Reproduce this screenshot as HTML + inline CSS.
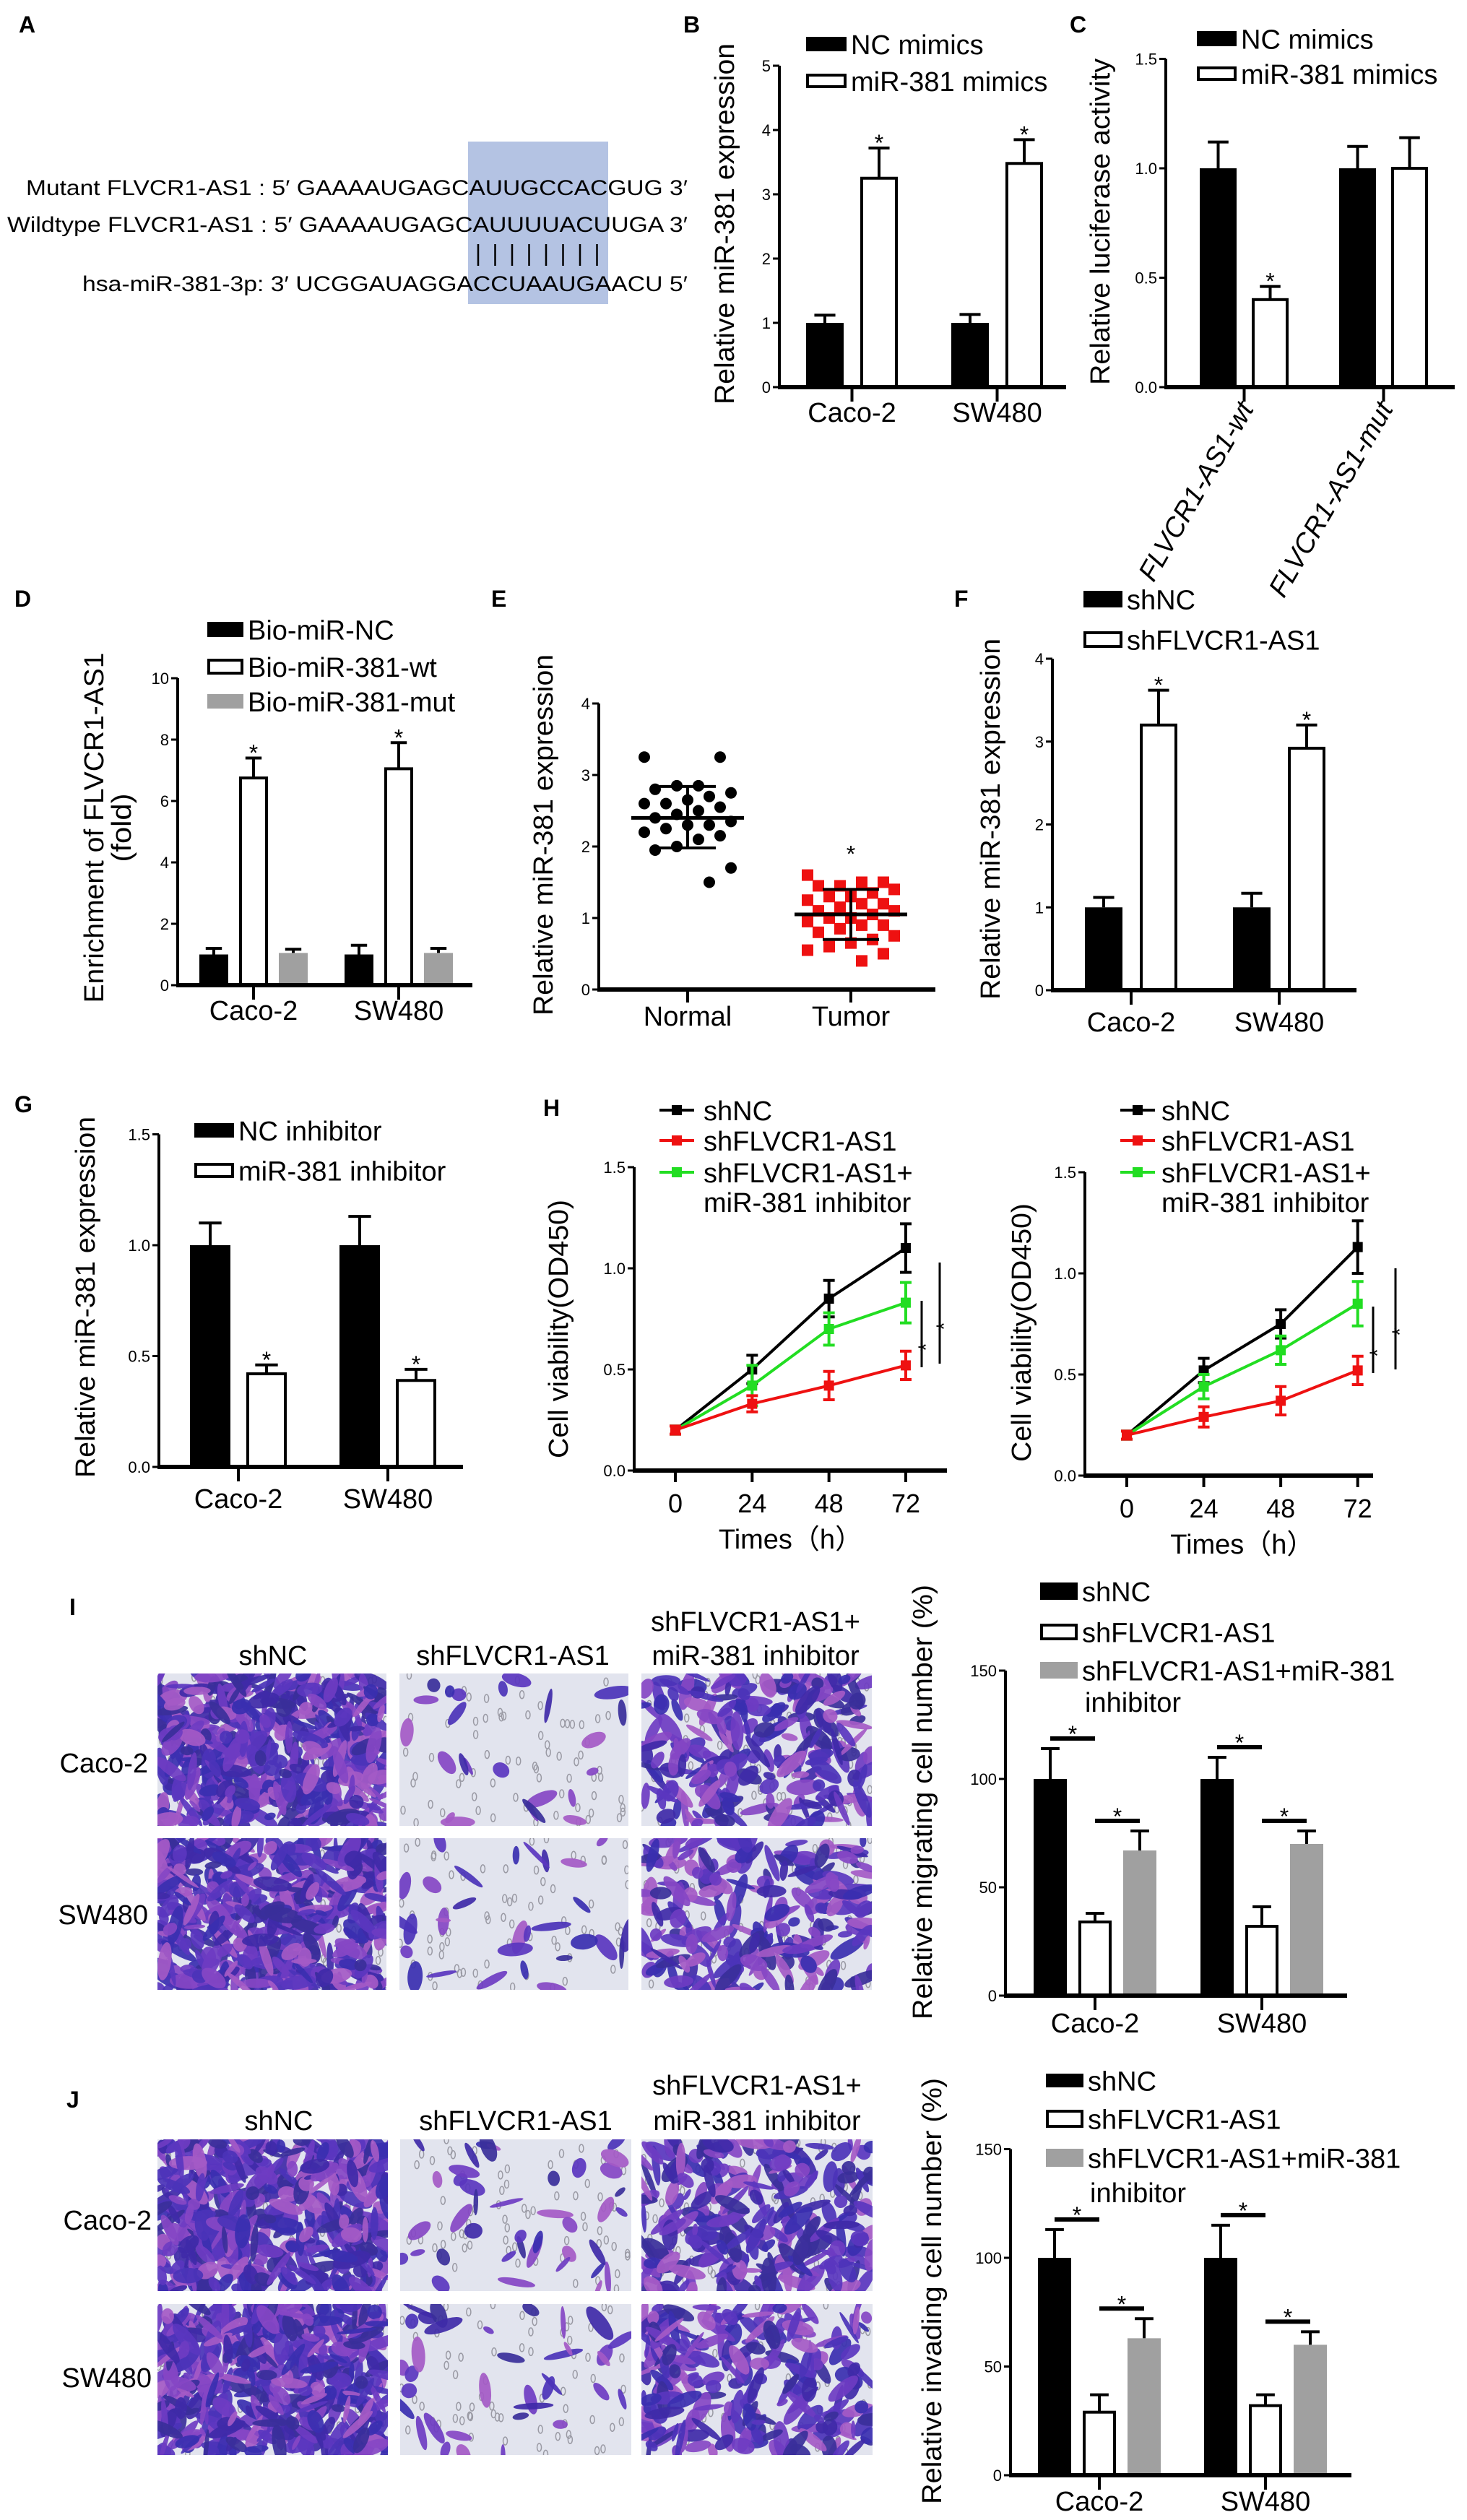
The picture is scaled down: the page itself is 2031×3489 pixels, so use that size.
<!DOCTYPE html>
<html><head><meta charset="utf-8"><title>Figure</title>
<style>html,body{margin:0;padding:0;background:#fff;}svg{display:block;}</style></head>
<body>
<svg id="fig" xmlns="http://www.w3.org/2000/svg" width="2031" height="3489" viewBox="0 0 2031 3489" font-family="'Liberation Sans', sans-serif">
<rect x="0" y="0" width="2031" height="3489" fill="#fff"/>
</svg>
<script>
// ---------- DATA ----------
const catsCells = ["Caco-2", "SW480"];
const bSeriesNames = ["NC mimics", "miR-381 mimics"];
const bNC = [1.0, 1.0];
const bNCerr = [0.12, 0.13];
const bMiR = [3.25, 3.48];
const bMiRerr = [0.47, 0.37];
const bTicks = [0, 1, 2, 3, 4, 5];
const bTickLabels = ["0", "1", "2", "3", "4", "5"];

const cCats = ["FLVCR1-AS1-wt", "FLVCR1-AS1-mut"];
const cNC = [1.0, 1.0];
const cNCerr = [0.12, 0.10];
const cMiR = [0.40, 1.0];
const cMiRerr = [0.06, 0.14];
const cTicks = [0, 0.5, 1.0, 1.5];
const cTickLabels = ["0.0", "0.5", "1.0", "1.5"];

const dSeriesNames = ["Bio-miR-NC", "Bio-miR-381-wt", "Bio-miR-381-mut"];
const dNC = [1.0, 1.0];
const dNCerr = [0.2, 0.3];
const dWt = [6.75, 7.05];
const dWtErr = [0.65, 0.85];
const dMut = [1.05, 1.05];
const dMutErr = [0.12, 0.15];
const dTicks = [0, 2, 4, 6, 8, 10];
const dTickLabels = ["0", "2", "4", "6", "8", "10"];

const eCats = ["Normal", "Tumor"];
const eNormal = [3.25,3.25,2.85,2.85,2.8,2.75,2.7,2.65,2.6,2.6,2.55,2.5,2.45,2.4,2.35,2.3,2.3,2.25,2.2,2.15,2.1,2.0,1.95,1.7,1.5];
const eTumor = [1.6,1.5,1.5,1.45,1.45,1.4,1.35,1.3,1.3,1.25,1.2,1.2,1.15,1.1,1.1,1.05,1.0,1.0,0.95,0.9,0.9,0.85,0.8,0.75,0.7,0.65,0.6,0.55,0.5,0.4];
const eNormalStats = [2.4, 2.84, 1.98];
const eTumorStats = [1.05, 1.4, 0.7];
const eTicks = [0, 1, 2, 3, 4];
const eTickLabels = ["0", "1", "2", "3", "4"];

const fSeriesNames = ["shNC", "shFLVCR1-AS1"];
const fNC = [1.0, 1.0];
const fNCerr = [0.12, 0.17];
const fSh = [3.2, 2.92];
const fShErr = [0.42, 0.28];
const fTicks = [0, 1, 2, 3, 4];
const fTickLabels = ["0", "1", "2", "3", "4"];

const gSeriesNames = ["NC inhibitor", "miR-381 inhibitor"];
const gNC = [1.0, 1.0];
const gNCerr = [0.1, 0.13];
const gInh = [0.42, 0.39];
const gInhErr = [0.04, 0.05];
const gTicks = [0, 0.5, 1.0, 1.5];
const gTickLabels = ["0.0", "0.5", "1.0", "1.5"];

const hTimes = [0, 24, 48, 72];
const hTickLabels = ["0", "24", "48", "72"];
const hYTicks = [0, 0.5, 1.0, 1.5];
const hYTickLabels = ["0.0", "0.5", "1.0", "1.5"];
const hSeriesNames = ["shNC", "shFLVCR1-AS1", "shFLVCR1-AS1+"];
const h1Black = [0.2, 0.5, 0.85, 1.1];
const h1BlackErr = [0.02, 0.07, 0.09, 0.12];
const h1Green = [0.2, 0.42, 0.7, 0.83];
const h1GreenErr = [0.02, 0.1, 0.08, 0.1];
const h1Red = [0.2, 0.33, 0.42, 0.52];
const h1RedErr = [0.02, 0.04, 0.07, 0.07];
const h2Black = [0.2, 0.52, 0.75, 1.13];
const h2BlackErr = [0.02, 0.06, 0.07, 0.13];
const h2Green = [0.2, 0.44, 0.62, 0.85];
const h2GreenErr = [0.02, 0.06, 0.07, 0.11];
const h2Red = [0.2, 0.29, 0.37, 0.52];
const h2RedErr = [0.02, 0.05, 0.07, 0.07];

const ijSeriesNames = ["shNC", "shFLVCR1-AS1", "shFLVCR1-AS1+miR-381"];
const iNC = [100, 100];
const iNCerr = [14, 10];
const iSh = [34, 32];
const iShErr = [4, 9];
const iRes = [67, 70];
const iResErr = [9, 6];
const jNC = [100, 100];
const jNCerr = [13, 15];
const jSh = [29, 32];
const jShErr = [8, 5];
const jRes = [63, 60];
const jResErr = [9, 6];
const ijTicks = [0, 50, 100, 150];
const ijTickLabels = ["0", "50", "100", "150"];

// ---------- HELPERS ----------
const NS = 'http://www.w3.org/2000/svg';
const svg = document.getElementById('fig');
function mk(tag, attrs, parent) {
  const e = document.createElementNS(NS, tag);
  for (const k in attrs) e.setAttribute(k, attrs[k]);
  (parent || svg).appendChild(e);
  return e;
}
function T(x, y, s, o) {
  o = o || {};
  let tr = 'translate(' + x + ',' + y + ')';
  if (o.rot) tr += ' rotate(' + o.rot + ')';
  const e = mk('text', {transform: tr, 'font-size': o.size || 38, 'text-anchor': o.anchor || 'start', fill: o.fill || '#000'}, o.parent);
  if (o.weight) e.setAttribute('font-weight', o.weight);
  if (o.italic) e.setAttribute('font-style', 'italic');
  if (o.len) { e.setAttribute('textLength', o.len); e.setAttribute('lengthAdjust', 'spacingAndGlyphs'); }
  e.textContent = s;
  const nm = o.name || 'label';
  
  
  return e;
}
function L(x1, y1, x2, y2, w, col, name, parent) {
  const e = mk('line', {x1: x1, y1: y1, x2: x2, y2: y2, stroke: col || '#000', 'stroke-width': w || 4}, parent);
  
  
  return e;
}
function R(x, y, w, h, fill, stroke, sw, name) {
  const e = mk('rect', {x: x, y: y, width: w, height: h, fill: fill, stroke: stroke || 'none', 'stroke-width': sw || 0});
  
  
  return e;
}
function legendBox(x, y, w, h, fill, label, name) {
  const open = fill === '#fff';
  if (open) R(x + 2, y + 2, w - 4, h - 4, '#fff', '#000', 4, name + '-swatch');
  else R(x, y, w, h, fill, 'none', 0, name + '-swatch');
  T(x + w + 6, y + h / 2 + 14, label, {size: 38, name: name + '-label'});
}
function panelLetter(x, y, s) {
  T(x, y, s, {size: 32, weight: 'bold', name: 'panel-letter-' + s.toLowerCase()});
}
function yAxis(ax, zeroY, yf, ticks, labels, name, fs) {
  const top = yf(ticks[ticks.length - 1]);
  L(ax, zeroY, ax, top, 4, '#000', name + '-y-axis');
  ticks.forEach((t, i) => {
    L(ax - 9, yf(t), ax, yf(t), 3, '#000', name + '-y-tick');
    T(ax - 12, yf(t) + 8, labels[i], {size: fs || 22, anchor: 'end', name: name + '-y-tick-label'});
  });
}
function vLabel(x, y, s, len, name, size) {
  T(x, y, s, {rot: -90, anchor: 'middle', len: len, size: size || 38, name: name});
}
function barChart(c) {
  const y = v => c.zeroY - v * c.ppu;
  const bx = (g, s) => c.start + g * c.gStep + s * c.bStep;
  const nS = c.series.length;
  c.series.forEach((s, si) => {
    s.vals.forEach((v, gi) => {
      const x = bx(gi, si);
      const top = y(v + s.errs[gi]);
      L(x + c.bw / 2, y(v), x + c.bw / 2, top, 4, '#000', c.name + '-error-bar');
      L(x + c.bw / 2 - c.bw * 0.28, top, x + c.bw / 2 + c.bw * 0.28, top, 4, '#000', c.name + '-error-cap');
      let bar;
      if (s.fill === '#fff') bar = R(x + 2, y(v), c.bw - 4, v * c.ppu, '#fff', '#000', 4, c.name + '-bar');
      else bar = R(x, y(v), c.bw, v * c.ppu, s.fill, 'none', 0, c.name + '-bar');
      
      if (s.stars && s.stars[gi]) T(x + c.bw / 2, top + 4, '*', {size: 32, anchor: 'middle', name: c.name + '-significance-star'});
    });
  });
  yAxis(c.axisX, c.zeroY, y, c.ticks, c.tickLabels, c.name, c.tickSize);
  L(c.axisX - 2, c.zeroY, c.axisEnd, c.zeroY, 6, '#000', c.name + '-x-axis');
  c.cats.forEach((cat, gi) => {
    const cx = bx(gi, 0) + ((nS - 1) * c.bStep + c.bw) / 2;
    L(cx, c.zeroY, cx, c.zeroY + 20, 4, '#000', c.name + '-x-tick');
    if (c.rotLabels) T(cx + 14, c.zeroY + 30, cat, {size: 38, anchor: 'end', rot: -60, italic: true, name: c.name + '-x-label'});
    else T(cx, c.catY, cat, {size: 38, anchor: 'middle', name: c.name + '-x-label'});
  });
  if (c.sig) c.sig.forEach(p => {
    const g = p[0], a = p[1], b = p[2];
    const sa = c.series[a], sb = c.series[b];
    const ta = y(sa.vals[g] + sa.errs[g]), tb = y(sb.vals[g] + sb.errs[g]);
    const ly = Math.min(ta, tb) - 14;
    L(bx(g, a) + c.bw / 2, ly, bx(g, b) + c.bw / 2, ly, 6, '#000', c.name + '-significance-line');
    T((bx(g, a) + bx(g, b) + c.bw) / 2, ly + 5, '*', {size: 32, anchor: 'middle', name: c.name + '-significance-star'});
  });
}
function lineChart(c) {
  const x = t => c.x0 + t * c.pph;
  const y = v => c.zeroY - v * c.ppu;
  yAxis(c.axisX, c.zeroY, y, hYTicks, hYTickLabels, c.name, 22);
  L(c.axisX - 2, c.zeroY, c.axisEnd, c.zeroY, 6, '#000', c.name + '-x-axis');
  hTimes.forEach((t, i) => {
    L(x(t), c.zeroY, x(t), c.zeroY + 16, 4, '#000', c.name + '-x-tick');
    T(x(t), c.zeroY + 58, hTickLabels[i], {size: 36, anchor: 'middle', name: c.name + '-x-tick-label'});
  });
  T((x(0) + x(72)) / 2, c.zeroY + 108, 'Times（h）', {size: 38, anchor: 'middle', name: c.name + '-x-axis-title'});
  c.series.forEach(s => {
    const pts = s.vals.map((v, i) => x(hTimes[i]) + ',' + y(v)).join(' ');
    const pl = mk('polyline', {points: pts, fill: 'none', stroke: s.col, 'stroke-width': 4});
    
    
    s.vals.forEach((v, i) => {
      const px = x(hTimes[i]);
      L(px, y(v - s.errs[i]), px, y(v + s.errs[i]), 4, s.col, c.name + '-error-bar');
      L(px - 8, y(v + s.errs[i]), px + 8, y(v + s.errs[i]), 4, s.col, c.name + '-error-cap');
      L(px - 8, y(v - s.errs[i]), px + 8, y(v - s.errs[i]), 4, s.col, c.name + '-error-cap');
      const m = mk('rect', {x: px - 7, y: y(v) - 7, width: 14, height: 14, fill: s.col});
      
      
    });
  });
  c.sigs.forEach(sg => {
    L(sg[0], sg[1], sg[0], sg[2], 3, '#000', c.name + '-significance-line');
    T(sg[0] + 16, (sg[1] + sg[2]) / 2 + 18, '*', {size: 30, anchor: 'middle', rot: -90, name: c.name + '-significance-star'});
  });
}
let seed = 12345;
function rnd() { seed = (seed * 16807) % 2147483647; return (seed - 1) / 2147483646; }
function micrograph(x, y, w, h, n, name) {
  const g = mk('g', {});
  
  
  const cid = 'clip-' + name;
  const cp = mk('clipPath', {id: cid}, g);
  mk('rect', {x: x, y: y, width: w, height: h}, cp);
  const inner = mk('g', {'clip-path': 'url(#' + cid + ')'}, g);
  mk('rect', {x: x, y: y, width: w, height: h, fill: '#e2e4ee'}, inner);
  for (let i = 0; i < 70; i++) {
    mk('ellipse', {cx: x + rnd() * w, cy: y + rnd() * h, rx: 3, ry: 5.5, fill: 'none', stroke: '#9a9aa4', 'stroke-width': 1.5}, inner);
  }
  const pal = ['#3f2aa8', '#4b33b8', '#5a36bf', '#3a2fb0', '#6e3cc2', '#8547c4', '#a45ac6', '#3a2f9a'];
  for (let i = 0; i < n; i++) {
    const cx = x + rnd() * w, cy = y + rnd() * h;
    const rx = 8 + rnd() * 20, ry = 3 + rnd() * 8;
    const a = Math.floor(rnd() * 180);
    mk('ellipse', {cx: cx, cy: cy, rx: rx, ry: ry, fill: pal[Math.floor(rnd() * pal.length)], opacity: 0.92, transform: 'rotate(' + a + ' ' + cx + ' ' + cy + ')'}, inner);
  }
}

// ---------- PANEL A ----------
panelLetter(26, 45, 'A');
R(648, 196, 194, 225, '#b4c3e3', 'none', 0, 'binding-site-highlight');
T(952, 270, "Mutant FLVCR1-AS1 : 5′ GAAAAUGAGCAUUGCCACGUG 3′", {size: 30, anchor: 'end', len: 916, name: 'mutant-sequence'});
T(952, 321, "Wildtype FLVCR1-AS1 : 5′ GAAAAUGAGCAUUUUACUUGA 3′", {size: 30, anchor: 'end', len: 942, name: 'wildtype-sequence'});
for (let i = 0; i < 8; i++) L(662 + i * 23.5, 338, 662 + i * 23.5, 368, 2.5, '#000', 'base-pair-tick');
T(952, 403, "hsa-miR-381-3p: 3′ UCGGAUAGGACCUAAUGAACU 5′", {size: 30, anchor: 'end', len: 838, name: 'mirna-sequence'});

// ---------- PANEL B ----------
panelLetter(946, 45, 'B');
legendBox(1116, 51, 56, 20, '#000', bSeriesNames[0], 'legend-nc-mimics');
legendBox(1116, 102, 56, 20, '#fff', bSeriesNames[1], 'legend-mir381-mimics');
barChart({name: 'chart-b', axisX: 1079, zeroY: 536, ppu: 89, ticks: bTicks, tickLabels: bTickLabels, axisEnd: 1476,
  start: 1116, gStep: 201, bStep: 75, bw: 52, cats: catsCells, catY: 584,
  series: [{vals: bNC, errs: bNCerr, fill: '#000'}, {vals: bMiR, errs: bMiRerr, fill: '#fff', stars: [1, 1]}]});
vLabel(1016, 310, 'Relative miR-381 expression', 500, 'chart-b-y-axis-title');

// ---------- PANEL C ----------
panelLetter(1481, 45, 'C');
legendBox(1657, 43, 55, 21, '#000', bSeriesNames[0], 'legend-c-nc-mimics');
legendBox(1657, 92, 55, 20, '#fff', bSeriesNames[1], 'legend-c-mir381-mimics');
barChart({name: 'chart-c', axisX: 1614, zeroY: 536, ppu: 303, ticks: cTicks, tickLabels: cTickLabels, axisEnd: 2014,
  start: 1661, gStep: 193, bStep: 72, bw: 51, cats: cCats, rotLabels: true,
  series: [{vals: cNC, errs: cNCerr, fill: '#000'}, {vals: cMiR, errs: cMiRerr, fill: '#fff', stars: [1, 0]}]});
vLabel(1536, 307, 'Relative luciferase activity', 452, 'chart-c-y-axis-title');

// ---------- PANEL D ----------
panelLetter(20, 840, 'D');
legendBox(287, 861, 50, 21, '#000', dSeriesNames[0], 'legend-bio-mir-nc');
legendBox(287, 912, 50, 22, '#fff', dSeriesNames[1], 'legend-bio-mir-381-wt');
legendBox(287, 961, 50, 20, '#a0a0a0', dSeriesNames[2], 'legend-bio-mir-381-mut');
barChart({name: 'chart-d', axisX: 246, zeroY: 1364, ppu: 42.5, ticks: dTicks, tickLabels: dTickLabels, axisEnd: 654,
  start: 276, gStep: 201, bStep: 55, bw: 40, cats: catsCells, catY: 1412,
  series: [{vals: dNC, errs: dNCerr, fill: '#000'}, {vals: dWt, errs: dWtErr, fill: '#fff', stars: [1, 1]}, {vals: dMut, errs: dMutErr, fill: '#a0a0a0'}]});
vLabel(143, 1146, 'Enrichment of FLVCR1-AS1', 485, 'chart-d-y-axis-title');
vLabel(181, 1146, '(fold)', 95, 'chart-d-y-axis-title-unit');

// ---------- PANEL E ----------
panelLetter(680, 840, 'E');
(function () {
  const ax = 829, zeroY = 1370, ppu = 99;
  const y = v => zeroY - v * ppu;
  const cx = [952, 1178];
  yAxis(ax, zeroY, y, eTicks, eTickLabels, 'chart-e', 22);
  L(ax - 2, zeroY, 1295, zeroY, 6, '#000', 'chart-e-x-axis');
  eCats.forEach((c, i) => {
    L(cx[i], zeroY, cx[i], zeroY + 18, 4, '#000', 'chart-e-x-tick');
    T(cx[i], 1420, c, {size: 38, anchor: 'middle', name: 'chart-e-x-label'});
  });
  eNormal.forEach((v, i) => {
    const off = ((i * 7) % 9 - 4) * 15;
    const d = mk('circle', {cx: cx[0] + off, cy: y(v), r: 8, fill: '#000'});
    
    
  });
  eTumor.forEach((v, i) => {
    const off = ((i * 7) % 9 - 4) * 15;
    const d = mk('rect', {x: cx[1] + off - 8, y: y(v) - 8, width: 16, height: 16, fill: '#ee1111'});
    
    
  });
  [eNormalStats, eTumorStats].forEach((st, i) => {
    L(cx[i] - 78, y(st[0]), cx[i] + 78, y(st[0]), 5, '#000', 'chart-e-mean-line');
    L(cx[i], y(st[1]), cx[i], y(st[2]), 4, '#000', 'chart-e-sd-line');
    L(cx[i] - 39, y(st[1]), cx[i] + 39, y(st[1]), 4, '#000', 'chart-e-sd-cap');
    L(cx[i] - 39, y(st[2]), cx[i] + 39, y(st[2]), 4, '#000', 'chart-e-sd-cap');
  });
  T(cx[1], y(eTumor[0]) + 4 - 22, '*', {size: 32, anchor: 'middle', name: 'chart-e-significance-star'});
})();
vLabel(765, 1156, 'Relative miR-381 expression', 500, 'chart-e-y-axis-title');

// ---------- PANEL F ----------
panelLetter(1321, 840, 'F');
legendBox(1500, 818, 54, 23, '#000', fSeriesNames[0], 'legend-f-shnc');
legendBox(1500, 874, 54, 23, '#fff', fSeriesNames[1], 'legend-f-shflvcr1-as1');
barChart({name: 'chart-f', axisX: 1457, zeroY: 1371, ppu: 114.75, ticks: fTicks, tickLabels: fTickLabels, axisEnd: 1878,
  start: 1502, gStep: 205, bStep: 76, bw: 52, cats: catsCells, catY: 1428,
  series: [{vals: fNC, errs: fNCerr, fill: '#000'}, {vals: fSh, errs: fShErr, fill: '#fff', stars: [1, 1]}]});
vLabel(1384, 1134, 'Relative miR-381 expression', 500, 'chart-f-y-axis-title');

// ---------- PANEL G ----------
panelLetter(20, 1540, 'G');
legendBox(269, 1555, 55, 20, '#000', gSeriesNames[0], 'legend-nc-inhibitor');
legendBox(269, 1610, 55, 21, '#fff', gSeriesNames[1], 'legend-mir381-inhibitor');
barChart({name: 'chart-g', axisX: 220, zeroY: 2031, ppu: 307, ticks: gTicks, tickLabels: gTickLabels, axisEnd: 641,
  start: 263, gStep: 207, bStep: 78, bw: 56, cats: catsCells, catY: 2088,
  series: [{vals: gNC, errs: gNCerr, fill: '#000'}, {vals: gInh, errs: gInhErr, fill: '#fff', stars: [1, 1]}]});
vLabel(131, 1796, 'Relative miR-381 expression', 500, 'chart-g-y-axis-title');

// ---------- PANEL H ----------
panelLetter(752, 1545, 'H');
function hLegend(x, tx, yy, col, label, name) {
  L(x, yy, x + 48, yy, 4, col, name + '-line');
  R(x + 17, yy - 7, 14, 14, col, 'none', 0, name + '-marker');
  T(tx, yy + 14, label, {size: 38, name: name + '-label'});
}
hLegend(913, 974, 1537, '#000', hSeriesNames[0], 'legend-h1-shnc');
hLegend(913, 974, 1579, '#ee1111', hSeriesNames[1], 'legend-h1-shflvcr1');
hLegend(913, 974, 1623, '#22dd22', hSeriesNames[2], 'legend-h1-rescue');
T(974, 1678, 'miR-381 inhibitor', {size: 38, name: 'legend-h1-rescue-label-2'});
hLegend(1551, 1608, 1537, '#000', hSeriesNames[0], 'legend-h2-shnc');
hLegend(1551, 1608, 1579, '#ee1111', hSeriesNames[1], 'legend-h2-shflvcr1');
hLegend(1551, 1608, 1623, '#22dd22', hSeriesNames[2], 'legend-h2-rescue');
T(1608, 1678, 'miR-381 inhibitor', {size: 38, name: 'legend-h2-rescue-label-2'});
lineChart({name: 'chart-h1', axisX: 878, zeroY: 2036, ppu: 280, x0: 935, pph: 4.43, axisEnd: 1311,
  series: [{key: 'shnc', vals: h1Black, errs: h1BlackErr, col: '#000'}, {key: 'rescue', vals: h1Green, errs: h1GreenErr, col: '#22dd22'}, {key: 'shflvcr1', vals: h1Red, errs: h1RedErr, col: '#ee1111'}],
  sigs: [[1276, 1801, 1893], [1301, 1748, 1888]]});
vLabel(786, 1840, 'Cell viability(OD450)', 358, 'chart-h1-y-axis-title');
lineChart({name: 'chart-h2', axisX: 1502, zeroY: 2043, ppu: 280, x0: 1560, pph: 4.44, axisEnd: 1901,
  series: [{key: 'shnc', vals: h2Black, errs: h2BlackErr, col: '#000'}, {key: 'rescue', vals: h2Green, errs: h2GreenErr, col: '#22dd22'}, {key: 'shflvcr1', vals: h2Red, errs: h2RedErr, col: '#ee1111'}],
  sigs: [[1901, 1809, 1901], [1932, 1756, 1896]]});
vLabel(1427, 1845, 'Cell viability(OD450)', 358, 'chart-h2-y-axis-title');

// ---------- PANEL I ----------
panelLetter(96, 2236, 'I');
T(378, 2305, 'shNC', {size: 38, anchor: 'middle', name: 'i-col-header-shnc'});
T(710, 2305, 'shFLVCR1-AS1', {size: 38, anchor: 'middle', name: 'i-col-header-shflvcr1'});
T(1046, 2258, 'shFLVCR1-AS1+', {size: 38, anchor: 'middle', name: 'i-col-header-rescue-1'});
T(1046, 2305, 'miR-381 inhibitor', {size: 38, anchor: 'middle', name: 'i-col-header-rescue-2'});
T(205, 2454, 'Caco-2', {size: 38, anchor: 'end', name: 'i-row-label-caco2'});
T(205, 2664, 'SW480', {size: 38, anchor: 'end', name: 'i-row-label-sw480'});
micrograph(218, 2317, 317, 211, 480, 'i-caco2-shnc');
micrograph(553, 2317, 317, 211, 24, 'i-caco2-shflvcr1');
micrograph(888, 2317, 319, 211, 230, 'i-caco2-rescue');
micrograph(218, 2545, 317, 210, 480, 'i-sw480-shnc');
micrograph(553, 2545, 317, 210, 30, 'i-sw480-shflvcr1');
micrograph(888, 2545, 319, 210, 220, 'i-sw480-rescue');
legendBox(1440, 2191, 52, 24, '#000', ijSeriesNames[0], 'legend-i-shnc');
legendBox(1440, 2248, 52, 23, '#fff', ijSeriesNames[1], 'legend-i-shflvcr1');
legendBox(1440, 2301, 52, 23, '#a0a0a0', ijSeriesNames[2], 'legend-i-rescue');
T(1502, 2370, 'inhibitor', {size: 38, name: 'legend-i-rescue-label-2'});
barChart({name: 'chart-i', axisX: 1392, zeroY: 2763, ppu: 3.0, ticks: ijTicks, tickLabels: ijTickLabels, axisEnd: 1865,
  start: 1431, gStep: 231, bStep: 62, bw: 46, cats: catsCells, catY: 2814,
  series: [{vals: iNC, errs: iNCerr, fill: '#000'}, {vals: iSh, errs: iShErr, fill: '#fff'}, {vals: iRes, errs: iResErr, fill: '#a0a0a0'}],
  sig: [[0, 0, 1], [0, 1, 2], [1, 0, 1], [1, 1, 2]]});
vLabel(1290, 2495, 'Relative migrating cell number (%)', 602, 'chart-i-y-axis-title');

// ---------- PANEL J ----------
panelLetter(92, 2918, 'J');
T(386, 2949, 'shNC', {size: 38, anchor: 'middle', name: 'j-col-header-shnc'});
T(714, 2949, 'shFLVCR1-AS1', {size: 38, anchor: 'middle', name: 'j-col-header-shflvcr1'});
T(1048, 2900, 'shFLVCR1-AS1+', {size: 38, anchor: 'middle', name: 'j-col-header-rescue-1'});
T(1048, 2949, 'miR-381 inhibitor', {size: 38, anchor: 'middle', name: 'j-col-header-rescue-2'});
T(210, 3087, 'Caco-2', {size: 38, anchor: 'end', name: 'j-row-label-caco2'});
T(210, 3305, 'SW480', {size: 38, anchor: 'end', name: 'j-row-label-sw480'});
micrograph(218, 2962, 319, 210, 470, 'j-caco2-shnc');
micrograph(554, 2962, 320, 210, 40, 'j-caco2-shflvcr1');
micrograph(888, 2962, 320, 210, 250, 'j-caco2-rescue');
micrograph(218, 3190, 319, 209, 480, 'j-sw480-shnc');
micrograph(554, 3190, 320, 209, 35, 'j-sw480-shflvcr1');
micrograph(888, 3190, 320, 209, 230, 'j-sw480-rescue');
legendBox(1448, 2871, 52, 19, '#000', ijSeriesNames[0], 'legend-j-shnc');
legendBox(1448, 2921, 52, 25, '#fff', ijSeriesNames[1], 'legend-j-shflvcr1');
legendBox(1448, 2975, 52, 25, '#a0a0a0', ijSeriesNames[2], 'legend-j-rescue');
T(1509, 3049, 'inhibitor', {size: 38, name: 'legend-j-rescue-label-2'});
barChart({name: 'chart-j', axisX: 1399, zeroY: 3427, ppu: 3.01, ticks: ijTicks, tickLabels: ijTickLabels, axisEnd: 1871,
  start: 1437, gStep: 230, bStep: 62, bw: 46, cats: catsCells, catY: 3476,
  series: [{vals: jNC, errs: jNCerr, fill: '#000'}, {vals: jSh, errs: jShErr, fill: '#fff'}, {vals: jRes, errs: jResErr, fill: '#a0a0a0'}],
  sig: [[0, 0, 1], [0, 1, 2], [1, 0, 1], [1, 1, 2]]});
vLabel(1303, 3172, 'Relative invading cell number (%)', 590, 'chart-j-y-axis-title');
</script>
</body></html>
